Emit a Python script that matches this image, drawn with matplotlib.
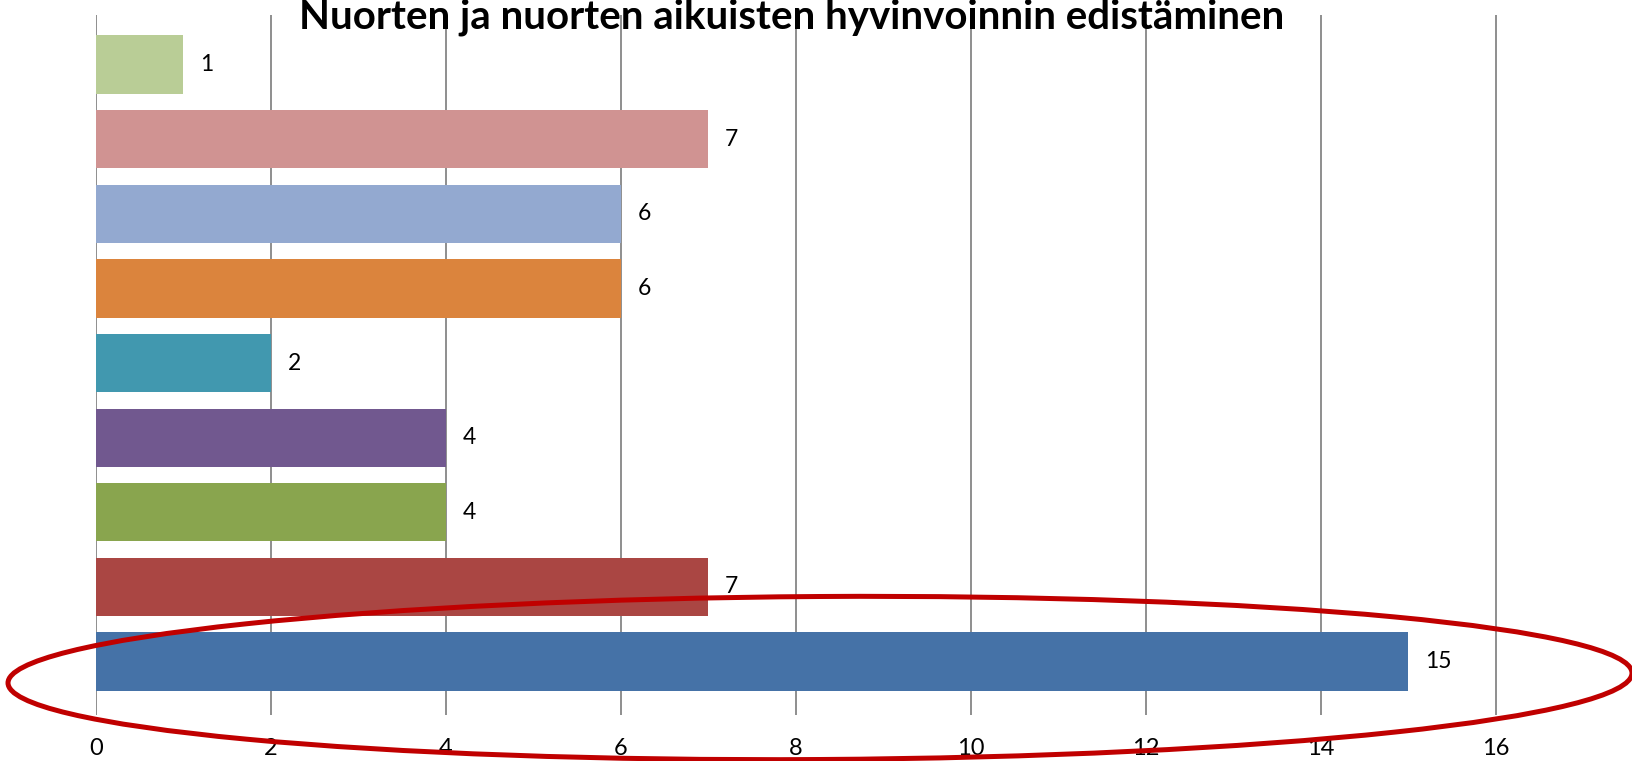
import numpy as np
import matplotlib.pyplot as plt
from matplotlib.patches import Ellipse

plt.rcParams['font.family'] = ['Lato', 'DejaVu Sans']

title = 'Nuorten ja nuorten aikuisten hyvinvoinnin edistäminen'
# bottom to top, as drawn
values = [15, 7, 4, 4, 2, 6, 6, 7, 1]
colors = ['#4572A7', '#AA4643', '#89A54E', '#71588F', '#4198AF',
          '#DB843D', '#93A9D0', '#D09392', '#B9CD96']
xticks = [0, 2, 4, 6, 8, 10, 12, 14, 16]

W, H = 1633, 761
fig = plt.figure(figsize=(W / 100, H / 100), dpi=100)
ax = fig.add_axes([96 / W, 1 - 714.5 / H, 1 - 96 / W, (714.5 - 14.6) / H])

pos = np.arange(len(values))
ax.barh(pos, values, height=0.78, color=colors, zorder=3)
for p, v in zip(pos, values):
    ax.text(v + 0.19, p, str(v), va='center', ha='left', fontsize=16.5, color='black')

ax.set_xlim(0, (W - 96) / 87.5)
ax.set_ylim(-0.71, len(values) - 1 + 0.67)
ax.set_xticks(xticks)
ax.set_yticks([])
ax.tick_params(axis='x', length=0, pad=17, labelsize=17)
ax.grid(axis='x', color='#868686', linewidth=1.3, zorder=0)
for s in ax.spines.values():
    s.set_visible(False)

fig.text(792 / W, 1 - 29 / H, title, ha='center', va='baseline',
         fontsize=29, fontweight='bold')

# red ellipse drawn over the chart, in pixel coords
ov = fig.add_axes([0, 0, 1, 1], facecolor='none')
ov.set_xlim(0, W)
ov.set_ylim(H, 0)
ov.axis('off')
ov.add_patch(Ellipse((820, 678), 1624, 163, angle=-0.35, fill=False,
                     edgecolor='#C00000', linewidth=3.6))

fig.savefig('out.png', dpi=100)
